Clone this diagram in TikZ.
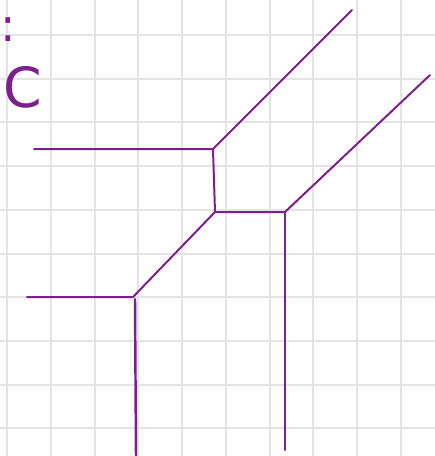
\documentclass[tikz,border=0pt]{standalone}
\usepackage{fontspec}
\setmainfont{DejaVu Sans}
\definecolor{tim}{RGB}{125,32,142}
\definecolor{xamluoi}{RGB}{228,228,228}
\begin{document}
\begin{tikzpicture}[x=0.02288cm, y=-0.02288cm, >=latex]
    \tikzset{
        luoi/.style={line width=1.3pt, xamluoi},
        canh/.style={line width=1.3pt, tim, line cap=round},
        chu/.style={tim, inner sep=0pt}
    }
    % 1. Khung giấy và lưới ô vuông
    \useasboundingbox (0,0) rectangle (435,456);
    \fill[white] (0,0) rectangle (435,456);
    \foreach \k in {0,...,9} {
        \draw[luoi] ({7.3+43.7*\k},0) -- ({7.3+43.7*\k},456);
        \draw[luoi] (0,{35+43.7*\k}) -- (435,{35+43.7*\k});
    }

    % 2. Nhãn chữ ở góc trên bên trái
    \node[chu, font=\fontsize{30}{30}\selectfont] (haicham) at (8,30) {:};
    \node[chu, font=\fontsize{36}{36}\selectfont, anchor=south west] (nhanC) at (3,109) {C};

    % 3. Các đỉnh và các đầu mút tự do
    \coordinate (P) at (213,149);
    \coordinate (Q) at (215,212);
    \coordinate (R) at (285,212);
    \coordinate (S) at (133,297);
    \coordinate (S2) at (135,299);
    \coordinate (P1) at (34,149);
    \coordinate (P2) at (352,10);
    \coordinate (R1) at (430,75);
    \coordinate (R2) at (285,450);
    \coordinate (S1) at (27,297);
    \coordinate (S3) at (136,456);

    % 4. Các cạnh màu tím
    \draw[canh] (P1) -- (P) -- (P2);
    \draw[canh] (P) -- (Q) -- (R) -- (R1);
    \draw[canh] (R) -- (R2);
    \draw[canh] (Q) -- (S) -- (S1);
    \draw[canh, line width=1.6pt] (S2) -- (S3);

\end{tikzpicture}
\end{document}
